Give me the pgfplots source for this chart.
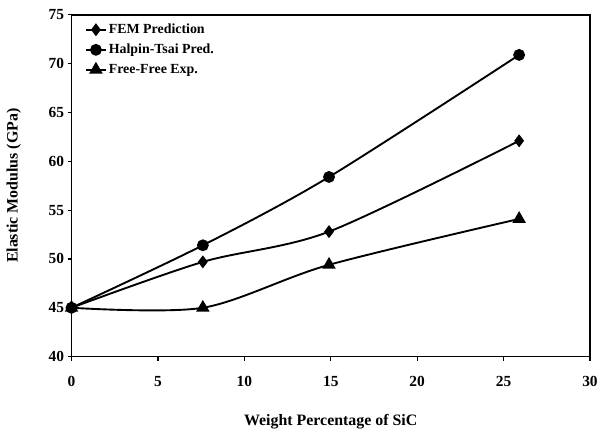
\documentclass[border=0pt]{standalone}
\usepackage{pgfplots}
\pgfplotsset{compat=1.18}
\usepackage{fontspec}
\setmainfont{Liberation Serif}
\begin{document}
\begin{tikzpicture}[x=1pt,y=1pt]
\begin{axis}[
  at={(0,0)}, anchor=south west,
  scale only axis, width=522pt, height=344pt,
  xmin=0, xmax=30, ymin=40, ymax=75,
  xtick={0,5,...,30}, ytick={40,45,...,75},
  tick align=outside, xtick pos=bottom, ytick pos=left,
  major tick length=4pt,
  axis line style={line width=1.8pt},
  every tick/.style={black, line width=1.2pt},
  font=\fontsize{16}{18}\selectfont\bfseries,
  /pgf/number format/assume math mode=true,
  xticklabel style={font=\fontsize{15.5}{17}\selectfont\bfseries, yshift=-12pt},
  yticklabel style={font=\fontsize{15.5}{17}\selectfont\bfseries},
  xlabel={Weight Percentage of SiC},
  ylabel={Elastic Modulus (GPa)},
  xlabel style={at={(axis description cs:0.5,0)}, anchor=center, yshift=-66pt},
  ylabel style={at={(axis description cs:0,0.5)}, anchor=center, yshift=58pt},
  legend style={at={(0.02,0.985)}, anchor=north west, draw=none, fill=none,
    font=\fontsize{14}{16}\selectfont\bfseries, row sep=5pt},
  legend cell align=left,
  legend image code/.code={\draw[#1, mark repeat=2, mark phase=2] plot coordinates {(0pt,0pt) (10pt,0pt) (20pt,0pt)};},
  every axis plot/.append style={black, line width=1.9pt, smooth, tension=0.5},
]
\addplot[mark=diamond*, mark size=5pt] coordinates {(0,45) (7.6,49.7) (14.9,52.8) (25.9,62.1)};
\addlegendentry{FEM Prediction}
\addplot[mark=*, mark size=5pt] coordinates {(0,45) (7.6,51.4) (14.9,58.4) (25.9,70.9)};
\addlegendentry{Halpin-Tsai Pred.}
\addplot[mark=triangle*, mark size=6pt] coordinates {(0,45) (7.6,45) (14.9,49.4) (25.9,54.1)};
\addlegendentry{Free-Free Exp.}
\end{axis}
\path[use as bounding box] (-72,-67) rectangle (529,359);
\end{tikzpicture}
\end{document}
